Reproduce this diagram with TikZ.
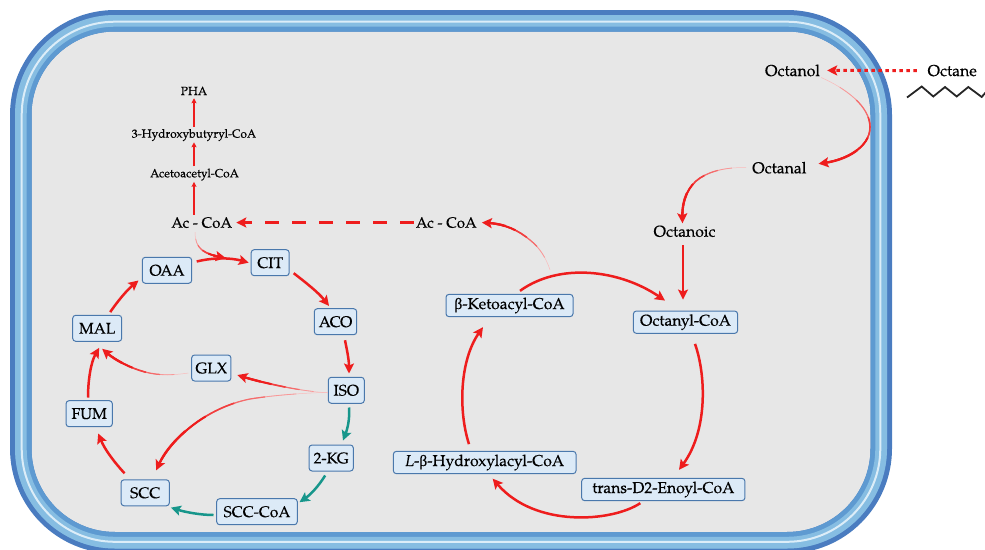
\documentclass[tikz,border=0pt]{standalone}
\usepackage{fontspec}
\setmainfont{texgyrepagella}[Extension=.otf,UprightFont=*-regular,ItalicFont=*-italic,BoldFont=*-bold,BoldItalicFont=*-bolditalic,FakeBold=0.3]
\newfontfamily\grk{Liberation Serif}[FakeBold=0.3]
\usetikzlibrary{arrows.meta}
\definecolor{rd}{HTML}{EE1D1D}
\definecolor{tl}{HTML}{17968B}
\definecolor{bxfill}{HTML}{DCEAF7}
\definecolor{bxedge}{HTML}{4A78AC}
\definecolor{memdark}{HTML}{4A7CC0}
\definecolor{memmid}{HTML}{5E9AD1}
\definecolor{memlight}{HTML}{86BDE2}
\definecolor{memwhite}{HTML}{DCEDF8}
\definecolor{cellgray}{HTML}{E7E7E7}
% tapered arrow: #1 = path, #2 = approximate path length
\newcommand\taper[2]{%
  \foreach \f/\w/\c in {0/0.5/30,0.15/0.8/45,0.3/1.2/65,0.45/1.6/85,0.6/2.0/100}{%
    \pgfmathsetmacro\off{#2*\f}%
    \draw[draw=rd!\c, line width=\w pt, dash pattern=on 0pt off \off pt on 3000pt, shorten >=5pt] #1;}%
  \pgfmathsetmacro\off{#2*0.72}%
  \draw[strong, dash pattern=on 0pt off \off pt on 3000pt] #1;}
\begin{document}
\begin{tikzpicture}[x=1pt,y=-1pt,
  bx/.style={draw=bxedge, fill=bxfill, line width=1pt, rounded corners=3pt, inner xsep=2pt, inner ysep=0pt, text=black},
  lbox/.style={bx, minimum height=26pt, font=\fontsize{15.5}{18}\selectfont},
  rbox/.style={bx, minimum height=22.3pt, font=\fontsize{15.7}{18}\selectfont},
  lbl/.style={inner sep=1pt, anchor=base, font=\fontsize{15.8}{19}\selectfont},
  sml/.style={inner sep=1pt, anchor=base, font=\fontsize{11.9}{14}\selectfont},
  tip/.style={-{Stealth[length=10pt,width=10pt,inset=2pt]}},
  arr/.style={draw=rd, line width=2.5pt, tip},
  tarr/.style={draw=tl, line width=2.5pt, tip},
  strong/.style={draw=rd, line width=2.3pt, tip},
  pha/.style={draw=rd, line width=1.3pt, -{Stealth[length=5pt,width=5pt,inset=1pt]}},
]
\useasboundingbox (0,0) rectangle (985,549);
% cell membrane
\fill[cellgray, rounded corners=94pt] (20.75,20.75) rectangle (881.25,542.75);
\draw[memdark, line width=21.5pt, rounded corners=94.25pt] (20.75,20.75) rectangle (881.25,542.75);
\draw[memmid, line width=16.5pt, rounded corners=91.75pt] (23.25,23.25) rectangle (878.75,540.25);
\draw[memlight, line width=11.7pt, rounded corners=94.15pt] (20.85,20.85) rectangle (881.15,542.65);
\draw[memwhite, line width=2pt, rounded corners=93.3pt] (21.7,21.7) rectangle (880.3,541.8);

% text labels
\node[sml] (pha) at (194,95) {PHA};
\node[sml] (hbc) at (194,137.7) {3-Hydroxybutyryl-CoA};
\node[sml] (aac) at (194.5,177.3) {Acetoacetyl-CoA};
\node[lbl, font=\fontsize{15}{18}\selectfont] (acl) at (201.7,227.7) {Ac - CoA};
\node[lbl, font=\fontsize{15}{18}\selectfont] (acr) at (446.3,227.7) {Ac - CoA};
\node[lbl] (octanol) at (792.5,76) {Octanol};
\node[lbl] (octane) at (952.2,76) {Octane};
\node[lbl] (octanal) at (779.3,173.3) {Octanal};
\node[lbl] (octanoic) at (684.5,236.7) {Octanoic};

% boxes, TCA / glyoxylate cycle
\node[lbox, minimum width=38pt] (cit) at (270.2,262.7) {CIT};
\node[lbox, minimum width=49.4pt] (oaa) at (167,270.3) {OAA};
\node[lbox, minimum width=42.4pt] (aco) at (335.5,321.7) {ACO};
\node[lbox, minimum width=49pt] (mal) at (97.2,328.3) {MAL};
\node[lbox, minimum width=39.3pt] (glx) at (211.3,368) {GLX};
\node[lbox, minimum width=36pt] (iso) at (346.3,390.3) {ISO};
\node[lbox, minimum width=46.3pt] (fum) at (89.2,413.7) {FUM};
\node[lbox, minimum width=44.3pt] (kg) at (331.2,458) {2-KG};
\node[lbox, minimum width=48.3pt] (scc) at (145.2,492.8) {SCC};
\node[lbox, minimum width=80.6pt] (scccoa) at (257,511.7) {SCC-CoA};
% boxes, beta oxidation
\node[rbox, minimum width=127pt] (keto) at (509.5,305.5) {{\grk β}-Ketoacyl-CoA};
\node[rbox, minimum width=104.3pt] (octanyl) at (685.5,322.2) {Octanyl-CoA};
\node[rbox, minimum width=182.7pt] (hyd) at (484.7,462.5) {\textit{L}-{\grk β}-Hydroxylacyl-CoA};
\node[rbox, minimum width=163.3pt] (enoyl) at (663.3,489.5) {trans-D2-Enoyl-CoA};

% octane zigzag
\draw[line width=1.8pt, black!85] (907,97.5) -- (921.7,86.5) -- (933.3,96.5) -- (945,87) -- (956.7,96.5) -- (968.3,87) -- (981.7,97) -- (986,92);

% octane uptake and oxidation
\draw[draw=rd, line width=3pt, dash pattern=on 3.5pt off 3.5pt, tip, shorten <=9.5pt, shorten >=6pt] (octane.west) -- (octanol.east);
\taper{(octanol.south east) .. controls (845,88) and (870,106) .. (870,127) .. controls (870,148) and (845,160) .. ([xshift=11pt,yshift=4pt]octanal.east)}{140}
\taper{([xshift=-5pt]octanal.west) .. controls (730,167) and (712,170) .. (700,178) .. controls (688,186) and (682,200) .. ([xshift=-2pt,yshift=1pt]octanoic.north)}{95}
\draw[arr, shorten <=7pt, shorten >=11pt] ([xshift=-1.5pt]octanoic.south) -- ([xshift=-1.5pt]octanoic.south |- octanyl.north);

% beta oxidation cycle
\draw[arr] ([xshift=10.5pt,yshift=3pt]keto.north) .. controls (560,262) and (620,270) .. ([xshift=-20.5pt,yshift=10pt]octanyl.north);
\draw[arr] ([xshift=9.5pt,yshift=-10pt]octanyl.south) .. controls (706,375) and (708,430) .. ([xshift=15.7pt,yshift=8pt]enoyl.north);
\draw[arr] ([xshift=-23pt,yshift=-2pt]enoyl.south) .. controls (612,522) and (535,528) .. ([xshift=8pt,yshift=-4.5pt]hyd.south);
\draw[arr] ([xshift=-15.7pt,yshift=6.7pt]hyd.north) .. controls (458,410) and (460,360) .. ([xshift=-26.5pt,yshift=-10pt]keto.south);
\taper{([xshift=40.5pt,yshift=24pt]keto.north) .. controls (546,258) and (540,248) .. (530,240) .. controls (518,230) and (505,224) .. ([xshift=4pt]acr.east)}{90}
\draw[draw=rd, line width=2.6pt, dash pattern=on 14pt off 13pt, tip, shorten <=1pt, shorten >=3pt] (acr.west) -- (acl.east);

% PHA branch
\draw[pha, shorten <=1pt] ([xshift=-7.7pt]acl.north) -- ([xshift=-0.5pt]aac.south);
\draw[pha, shorten <=1pt] ([xshift=-0.5pt]aac.north) -- (hbc.south);
\draw[pha, shorten <=1pt, shorten >=2pt] (hbc.north) -- (pha.south);

% TCA cycle
\taper{([xshift=-6.7pt,yshift=-3pt]acl.south) .. controls (195,240) and (197,246) .. (202,250) .. controls (207,254) and (215,256) .. ([xshift=-25pt,yshift=4.7pt]cit.west)}{45}
\draw[arr] ([xshift=4.5pt,yshift=-4.7pt]oaa.north east) .. controls (215,257) and (232,258) .. ([xshift=-2pt]cit.west);
\draw[arr] ([xshift=4pt,yshift=3pt]cit.south east) .. controls (305,282) and (318,292) .. ([xshift=-6.5pt,yshift=2.3pt]aco.north);
\draw[arr] ([xshift=9.5pt,yshift=-5pt]aco.south) .. controls (347,350) and (349,360) .. ([xshift=2.7pt,yshift=3.3pt]iso.north);
\taper{([yshift=-2.5pt]iso.west) .. controls (315,392) and (300,390) .. (285,387) .. controls (265,383) and (250,379) .. ([xshift=6pt,yshift=-7pt]glx.east)}{95}
\taper{([yshift=-2pt]iso.west) .. controls (305,393) and (275,395) .. (250,399) .. controls (205,408) and (170,440) .. ([xshift=11pt,yshift=9pt]scc.north)}{210}
\draw[tarr] ([xshift=2.7pt,yshift=-3.7pt]iso.south) .. controls (350,420) and (347,430) .. ([xshift=11.8pt,yshift=4pt]kg.north);
\draw[tarr] ([xshift=-6pt,yshift=-4pt]kg.south) .. controls (318,487) and (310,495) .. ([xshift=1.7pt,yshift=-4pt]scccoa.north east);
\draw[tarr] ([xshift=-2.7pt,yshift=-3.3pt]scccoa.west) .. controls (200,515) and (185,512) .. ([xshift=1pt,yshift=-1.3pt]scc.south east);
\draw[arr] ([xshift=4pt,yshift=6pt]scc.north west) .. controls (115,463) and (105,450) .. ([xshift=9pt,yshift=-6.3pt]fum.south);
\draw[arr] ([xshift=-1.2pt,yshift=2.7pt]fum.north) .. controls (88,380) and (91,362) .. ([xshift=2pt,yshift=-6pt]mal.south);
\taper{([xshift=-2.7pt,yshift=-5pt]glx.west) .. controls (175,375) and (160,376) .. (145,372) .. controls (130,368) and (115,360) .. ([xshift=5pt,yshift=-7pt]mal.south)}{95}
\draw[arr] ([xshift=13pt,yshift=2.7pt]mal.north) .. controls (117,302) and (127,290) .. ([xshift=-3.3pt,yshift=3.3pt]oaa.south west);
\end{tikzpicture}
\end{document}
